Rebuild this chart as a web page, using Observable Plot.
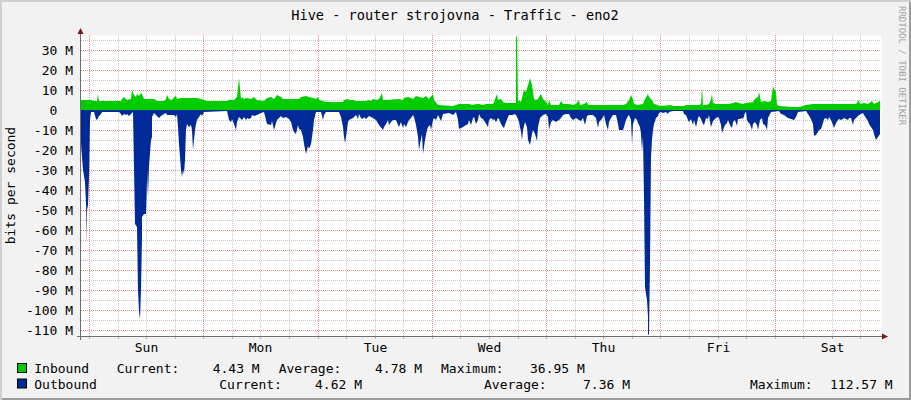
<!DOCTYPE html>
<html>
<head>
<meta charset="utf-8">
<script src="https://cdn.jsdelivr.net/npm/d3@7"></script>
<script src="https://cdn.jsdelivr.net/npm/@observablehq/plot@0.6"></script>
<style>
  html, body { margin: 0; padding: 0; background: #f2f2f2; }
  #chart { position: relative; width: 911px; height: 400px; background: #f2f2f2; overflow: hidden;
           box-shadow: inset 2px 2px 0 #d0d0d0, inset -2px -2px 0 #9c9c9c; }
  #chart svg { position: absolute; left: 0; top: 0; }
</style>
</head>
<body>
<div id="chart"></div>
<script>
// ---------------- data (hours since Sunday 00:00, values in Mbit/s) ----------------
const title = "Hive - router strojovna - Traffic - eno2";
const yAxisTitle = "bits per second";
const watermark = "RRDTOOL / TOBI OETIKER";
const days = ["Sun", "Mon", "Tue", "Wed", "Thu", "Fri", "Sat"];
const dayNoonHours = [12, 36, 60, 84, 108, 132, 156];
const midnightHours = [0, 24, 48, 72, 96, 120, 144];
const sixHourTicks = [0, 6, 12, 18, 24, 30, 36, 42, 48, 54, 60, 66, 72, 78, 84, 90, 96, 102, 108, 114, 120, 126, 132, 138, 144, 150, 156, 162];
const yMajorTicks = [30, 20, 10, 0, -10, -20, -30, -40, -50, -60, -70, -80, -90, -100, -110];
const yMinorTicks = [35, 25, 15, 5, -5, -15, -25, -35, -45, -55, -65, -75, -85, -95, -105];
const xDomain = [-1.68, 166.32];
const yDomain = [-112.85, 37.65];

const inHours = [-1.83,0.34,1.04,1.6,1.88,2.09,4.19,4.33,4.54,6.64,6.99,7.34,8.04,8.74,9.09,9.44,9.79,10.14,10.49,10.84,11.19,11.54,12.24,13.64,13.99,14.34,15.74,16.09,16.44,16.79,17.49,17.84,18.19,18.54,19.24,22.74,23.44,24.14,24.84,29.04,29.39,30.44,31.14,31.49,31.84,32.19,32.54,33.24,33.94,34.64,35.34,36.74,37.09,37.44,38.14,38.84,39.54,39.89,
40.31,40.66,41.36,44.16,44.51,45.56,46.26,46.96,47.66,48.01,48.36,49.06,49.76,53.26,53.61,54.31,54.66,55.36,56.06,58.16,58.86,59.21,59.56,60.26,60.96,61.45,61.8,62.36,65.16,65.86,66.21,66.91,67.61,67.96,68.66,69.36,70.06,70.76,71.46,72.16,72.51,73.21,76.36,77.06,77.76,78.46,79.16,79.86,80.56,81.26,81.96,
82.66,83.36,84.76,85.11,85.6,85.95,86.3,86.65,87.0,87.56,89.66,89.75,89.95,90.08,90.36,90.71,91.06,91.41,91.76,92.11,92.46,92.67,92.95,93.16,93.51,93.86,94.21,94.56,94.91,95.26,95.61,95.96,96.31,96.66,97.01,98.76,99.11,99.46,100.16,100.86,101.56,102.26,102.82,103.17,104.01,104.5,104.85,112.06,112.76,113.32,113.81,114.16,114.51,115.21,116.26,116.75,117.31,117.66,118.15,118.71,119.41,119.76,122.21,122.56,123.96,
125.01,125.36,128.16,128.51,128.72,128.93,129.56,130.26,130.61,130.82,131.1,131.66,132.36,134.46,135.16,135.86,136.56,137.26,137.96,139.36,139.92,140.41,140.76,141.11,141.81,142.51,143.21,143.56,143.91,144.26,144.4,144.96,147.76,149.16,149.86,150.56,151.96,161.06,161.62,161.9,162.81,163.51,164.42,164.91,166.17];
const inMbps = [5.3,5.0,4.7,4.8,8.0,4.7,4.5,4.8,4.5,4.5,5.8,6.7,5.0,5.8,10.0,7.5,6.7,8.3,7.2,8.7,8.0,5.8,5.5,5.5,5.0,4.7,4.7,5.8,7.5,5.8,5.0,6.7,7.2,5.8,6.0,6.0,5.5,5.0,4.5,4.5,5.0,5.3,6.7,16.3,5.8,6.7,5.5,6.2,5.8,6.7,5.0,4.7,5.8,6.2,6.7,5.8,7.5,7.2,
6.7,5.8,5.5,5.5,6.7,7.0,6.7,6.2,5.8,6.7,5.3,4.7,4.2,4.2,5.0,5.8,5.0,5.0,4.5,4.5,5.3,4.7,5.8,5.0,5.5,8.7,5.0,5.3,5.5,5.0,6.2,6.7,6.2,5.8,7.0,6.7,6.2,7.0,5.8,8.0,5.0,2.5,2.2,2.5,3.0,3.3,3.0,3.3,2.8,3.3,3.0,
2.5,3.0,3.3,4.2,8.0,5.0,5.8,5.0,4.2,3.7,3.7,36.95,36.5,4.2,5.0,4.2,8.3,10.3,9.2,12.5,14.2,16.3,12.5,9.2,5.8,5.0,5.8,6.7,8.3,5.8,5.0,4.2,2.5,5.0,2.5,2.5,4.7,3.0,3.3,3.0,2.5,3.0,5.3,2.5,3.0,4.2,2.5,2.5,3.3,5.0,7.5,5.0,3.0,2.5,3.3,5.8,8.3,6.7,5.0,3.0,2.5,2.0,2.5,2.0,2.0,
2.0,2.5,2.5,3.0,11.7,2.5,2.5,3.3,5.8,8.0,3.7,3.0,3.3,3.3,3.7,4.2,3.7,3.3,3.7,4.2,5.8,6.7,9.2,4.2,4.7,4.2,4.7,12.0,10.8,9.2,2.5,2.0,1.7,1.7,2.0,2.5,3.0,3.0,5.0,3.3,3.7,3.3,4.7,3.3,4.4];

const outHours = [-1.83,-1.62,-1.2,-0.92,-0.71,-0.5,-0.36,-0.15,0.06,0.2,0.34,1.04,1.39,1.74,2.09,2.44,2.79,6.29,6.64,6.99,7.34,7.69,8.04,8.39,8.74,9.3,9.58,10.0,10.28,10.49,10.63,10.84,11.05,11.19,11.54,11.89,12.1,12.24,12.45,12.66,12.94,13.15,13.29,13.64,14.69,15.04,15.74,16.09,16.44,17.84,18.19,18.54,18.75,18.96,19.24,19.45,19.66,19.94,20.15,20.36,20.64,20.99,21.34,21.69,21.9,22.18,22.39,22.74,23.09,23.44,23.79,24.14,29.04,29.39,29.74,30.09,30.44,30.79,31.14,31.49,31.84,32.19,32.54,32.89,33.24,33.59,33.94,34.29,34.64,35.34,36.04,36.74,37.09,37.44,38.14,38.49,38.84,39.19,39.54,39.89,
40.31,40.66,41.36,42.06,42.41,42.76,43.11,43.46,43.81,44.16,44.51,44.86,45.21,45.56,45.91,46.26,46.61,46.96,47.31,47.66,48.71,49.06,49.41,49.76,52.56,52.91,53.26,53.61,53.82,54.1,54.31,54.66,55.36,56.06,56.41,56.76,57.11,57.46,57.81,58.16,58.86,59.56,60.26,60.96,61.66,62.01,62.36,62.71,63.06,63.41,63.76,64.46,64.81,65.16,65.51,65.86,66.21,66.56,66.91,67.26,67.61,67.96,68.31,68.66,69.01,69.22,69.5,69.85,70.2,70.55,70.9,71.25,71.6,71.81,72.16,72.51,72.86,73.21,73.56,73.91,74.26,75.66,76.36,77.06,77.41,77.76,78.46,79.16,79.51,79.86,80.21,80.56,80.91,81.26,81.61,
81.96,82.31,82.66,83.22,83.71,84.06,84.41,84.76,85.11,85.46,85.81,86.16,86.51,86.86,87.21,87.56,87.91,88.26,88.96,89.31,89.66,90.01,90.36,90.71,90.92,91.2,91.55,91.9,92.25,92.6,92.95,93.3,93.65,94.0,94.35,94.7,95.26,95.96,96.31,96.66,97.01,97.36,98.06,98.76,99.11,99.46,100.16,100.86,101.21,101.56,102.26,102.82,103.31,103.66,104.22,104.5,105.06,105.76,106.46,106.81,107.16,107.51,107.86,108.21,108.56,108.91,109.26,109.61,109.96,110.66,111.01,111.36,112.06,112.41,112.76,113.11,113.46,113.81,114.02,114.3,114.65,115.0,115.35,115.7,115.91,116.12,116.33,116.54,116.75,116.96,117.17,117.38,117.48,117.6,117.73,117.94,118.15,118.36,118.71,119.06,119.41,119.76,120.11,120.46,121.16,121.51,121.86,122.56,
124.66,125.01,125.36,125.71,126.06,126.41,126.76,127.11,127.46,127.81,128.16,128.51,128.86,129.21,129.56,129.91,130.26,130.61,130.96,131.31,131.66,132.01,132.36,132.71,132.92,133.2,133.55,133.9,134.25,134.6,134.95,135.3,135.65,136.0,136.35,136.7,137.05,137.4,137.75,137.96,138.17,138.45,138.8,139.15,139.5,139.85,140.2,140.55,140.9,141.25,141.6,141.95,142.3,142.58,142.86,143.21,144.96,145.31,146.01,146.71,147.41,148.11,148.46,148.81,150.56,150.91,151.61,151.96,152.31,152.66,153.01,153.36,153.71,154.06,154.41,154.76,155.11,155.46,155.81,156.16,156.51,156.86,157.21,157.56,157.91,158.26,158.61,158.96,159.31,159.66,160.01,160.36,160.71,161.06,161.41,161.76,162.11,162.46,162.81,163.16,163.51,163.86,164.21,164.56,164.91,165.26,165.61,166.17];
const outMbps = [16.7,16.7,30.0,35.8,46.7,66.7,50.0,47.5,33.3,5.0,0.8,0.8,4.2,4.7,3.0,1.7,0.7,0.8,1.7,3.0,1.7,2.5,1.7,3.0,1.7,0.8,56.7,58.3,90.0,100.8,104.2,90.0,63.3,53.3,51.7,51.7,35.0,30.0,43.3,28.0,15.0,13.3,3.3,1.3,3.7,3.0,1.7,1.3,2.5,2.5,3.3,1.7,8.3,16.7,30.0,33.3,30.0,31.7,25.0,10.0,6.7,8.3,7.5,10.0,19.7,10.0,6.7,5.0,3.3,1.7,3.0,0.8,0.5,5.0,5.8,4.2,6.7,9.7,5.8,3.3,4.2,5.0,3.3,5.0,3.7,4.2,3.7,2.5,3.0,2.5,1.3,0.8,5.0,6.7,7.2,5.3,10.0,6.3,5.0,3.7,
3.0,3.7,3.3,4.2,5.8,10.0,10.8,11.7,7.5,9.2,10.0,13.3,16.7,22.0,18.0,19.2,16.7,10.0,5.0,0.8,0.8,5.0,2.5,0.7,0.7,3.3,8.3,13.3,16.3,10.0,5.8,5.0,3.7,2.5,4.2,1.7,3.7,4.2,3.3,4.2,3.0,3.7,5.0,7.5,10.0,8.3,6.7,5.0,7.5,5.8,4.7,5.0,7.5,8.3,5.8,8.8,6.7,8.3,5.8,4.7,3.7,2.5,3.3,7.5,13.3,20.0,16.7,11.7,22.0,15.0,10.0,8.3,7.5,10.0,5.0,3.7,4.7,2.5,3.3,5.3,2.0,1.3,2.5,0.8,5.0,9.2,8.3,7.5,6.7,5.0,7.5,3.7,3.3,6.7,4.7,
1.7,3.7,4.2,5.8,8.3,5.0,3.7,5.0,4.2,5.8,3.7,4.2,6.7,8.3,8.7,5.8,3.3,2.5,2.2,1.7,2.5,4.2,5.8,10.8,14.7,10.0,5.8,8.3,15.0,17.5,11.7,10.0,11.7,15.3,8.3,3.7,2.5,1.7,3.3,9.7,5.8,5.0,5.8,4.7,3.7,2.5,1.7,2.0,3.7,4.7,3.7,4.7,5.3,3.7,7.5,3.0,2.5,2.5,3.7,8.7,5.8,4.7,3.3,2.5,7.0,10.0,5.8,3.7,2.5,2.5,6.7,9.7,9.7,8.3,4.7,3.0,2.5,5.0,16.3,6.7,3.7,5.0,6.3,8.3,11.7,20.3,13.3,43.3,88.3,91.7,95.0,103.3,112.57,112.0,76.7,23.3,15.0,10.0,6.7,3.7,3.0,1.3,0.8,1.3,0.8,1.7,0.8,0.5,
0.5,1.7,2.5,5.0,5.8,4.2,7.5,5.0,8.3,3.7,3.0,4.2,6.7,7.5,3.7,4.2,2.5,8.3,5.3,5.0,3.7,3.3,3.7,7.5,11.3,10.0,7.5,6.3,5.0,7.5,8.7,5.8,5.0,8.0,4.2,4.2,3.7,4.2,1.3,0.8,5.0,5.8,7.0,9.7,6.7,5.8,7.5,9.7,5.0,3.7,6.7,7.5,10.0,3.7,3.0,0.8,0.5,1.7,2.5,3.7,4.2,5.0,3.3,0.8,0.5,1.7,4.2,6.7,13.0,12.5,10.8,10.0,9.2,6.3,4.2,3.7,5.0,3.3,5.0,7.5,8.7,6.3,5.0,4.2,4.7,4.2,3.7,4.2,5.0,3.7,3.7,7.5,5.0,3.7,3.0,2.5,1.7,1.3,2.5,3.7,5.3,7.0,8.3,10.0,11.7,15.0,13.3,11.7];

const legendNames = ["Inbound", "Outbound"];
const legendColors = ["#00cc00", "#002a97"];
const legendCurrent = ["4.43 M", "4.62 M"];
const legendAverage = ["4.78 M", "7.36 M"];
const legendMaximum = ["36.95 M", "112.57 M"];

// ---------------- build ----------------
const inbound = inHours.map((h, i) => ({h, v: inMbps[i]}));
const outbound = outHours.map((h, i) => ({h, v: outMbps[i]}));
const FONT = "DejaVu Sans Mono";
const yFmt = d => d === 0 ? "0\u00a0\u00a0" : `${d} M`;

const plot = Plot.plot({
  width: 911, height: 400,
  marginLeft: 81, marginRight: 30, marginTop: 35, marginBottom: 64,
  x: {domain: xDomain, round: true},
  y: {domain: yDomain, round: true},
  style: {background: "transparent", fontFamily: FONT, fontSize: "13px", overflow: "visible"},
  marks: [
    Plot.frame({fill: "white", stroke: "none"}),
    Plot.ruleY(yMinorTicks, {stroke: "#c6c6c6", strokeDasharray: "1,1"}),
    Plot.ruleX(sixHourTicks.filter(h => h % 24 !== 0), {stroke: "#c6c6c6", strokeDasharray: "1,1"}),
    Plot.ruleY(yMajorTicks, {stroke: "#ee8c8c", strokeDasharray: "1,1"}),
    Plot.ruleX(midnightHours, {stroke: "#ee8c8c", strokeDasharray: "1,1"}),
    Plot.areaY(inbound, {x: "h", y: "v", fill: legendColors[0], clip: true}),
    Plot.areaY(outbound, {x: "h", y: d => -d.v, fill: legendColors[1], clip: true}),
    Plot.axisY({ticks: yMajorTicks, tickSize: 0, tickPadding: 8.5, tickFormat: yFmt, label: null,
                fontFamily: FONT, fontSize: 13, fill: "black"}),
    Plot.axisX({ticks: sixHourTicks, tickSize: 3, tickPadding: 0, tickFormat: () => "", label: null,
                stroke: "#b0b0b0"}),
    Plot.axisX({ticks: dayNoonHours, tickSize: 0, tickPadding: 6, label: null,
                tickFormat: d => days[Math.floor(d / 24)], fontFamily: FONT, fontSize: 13, fill: "black"})
  ]
});

document.getElementById("chart").appendChild(plot);

// decorations: axis lines, arrows, texts
const svg = d3.select(plot);
const X = plot.scale("x"), Y = plot.scale("y");
const x0 = Math.round(X.apply(xDomain[0])), x1 = Math.round(X.apply(xDomain[1]));
const y0 = Math.round(Y.apply(yDomain[0])), y1 = Math.round(Y.apply(yDomain[1]));
const axisColor = "#6e6e6e", arrowColor = "#7f1515";
svg.append("line").attr("x1", x0 - 0.5).attr("x2", x0 - 0.5).attr("y1", y1 - 2).attr("y2", y0 + 4)
  .attr("stroke", axisColor);
svg.append("line").attr("x1", x0 - 4).attr("x2", x1 + 2).attr("y1", y0 + 0.5).attr("y2", y0 + 0.5)
  .attr("stroke", axisColor);
svg.append("path").attr("d", `M${x0 - 3.5},${y1 - 1}L${x0 + 2.5},${y1 - 1}L${x0 - 0.5},${y1 - 7}Z`).attr("fill", arrowColor);
svg.append("path").attr("d", `M${x1 + 1},${y0 - 2.5}L${x1 + 1},${y0 + 3.5}L${x1 + 7},${y0 + 0.5}Z`).attr("fill", arrowColor);

const txt = (x, y, s, opts = {}) => svg.append("text")
  .attr("x", x).attr("y", y)
  .attr("font-family", FONT).attr("font-size", opts.size || 13)
  .attr("fill", opts.fill || "black")
  .attr("text-anchor", opts.anchor || "start")
  .attr("transform", opts.transform || null)
  .style("white-space", "pre")
  .text(s);

txt(455, 19.5, title, {anchor: "middle", size: 13.6});
txt(0, 0, yAxisTitle, {anchor: "middle", transform: `translate(14.5,${(y0 + y1) / 2}) rotate(-90)`});
txt(0, 0, watermark, {size: 9, fill: "#a3a3a3", transform: "translate(899,6) rotate(90)"});

const rows = [
  {y: 373, sq: 364, parts: [[34.3, legendNames[0]], [116.7, "Current:"], [212.7, legendCurrent[0]], [278.7, "Average:"], [375, legendAverage[0]], [441, "Maximum:"], [530, legendMaximum[0]]]},
  {y: 388.5, sq: 379.5, parts: [[34.3, legendNames[1]], [219.3, "Current:"], [315, legendCurrent[1]], [484, "Average:"], [583, legendAverage[1]], [750, "Maximum:"], [830, legendMaximum[1]]]}
];
rows.forEach((r, i) => {
  svg.append("rect").attr("x", 17.5).attr("y", r.sq - 0.5).attr("width", 9).attr("height", 9)
    .attr("fill", legendColors[i]).attr("stroke", "black");
  r.parts.forEach(([x, s]) => txt(x, r.y, s));
});
</script>
</body>
</html>
